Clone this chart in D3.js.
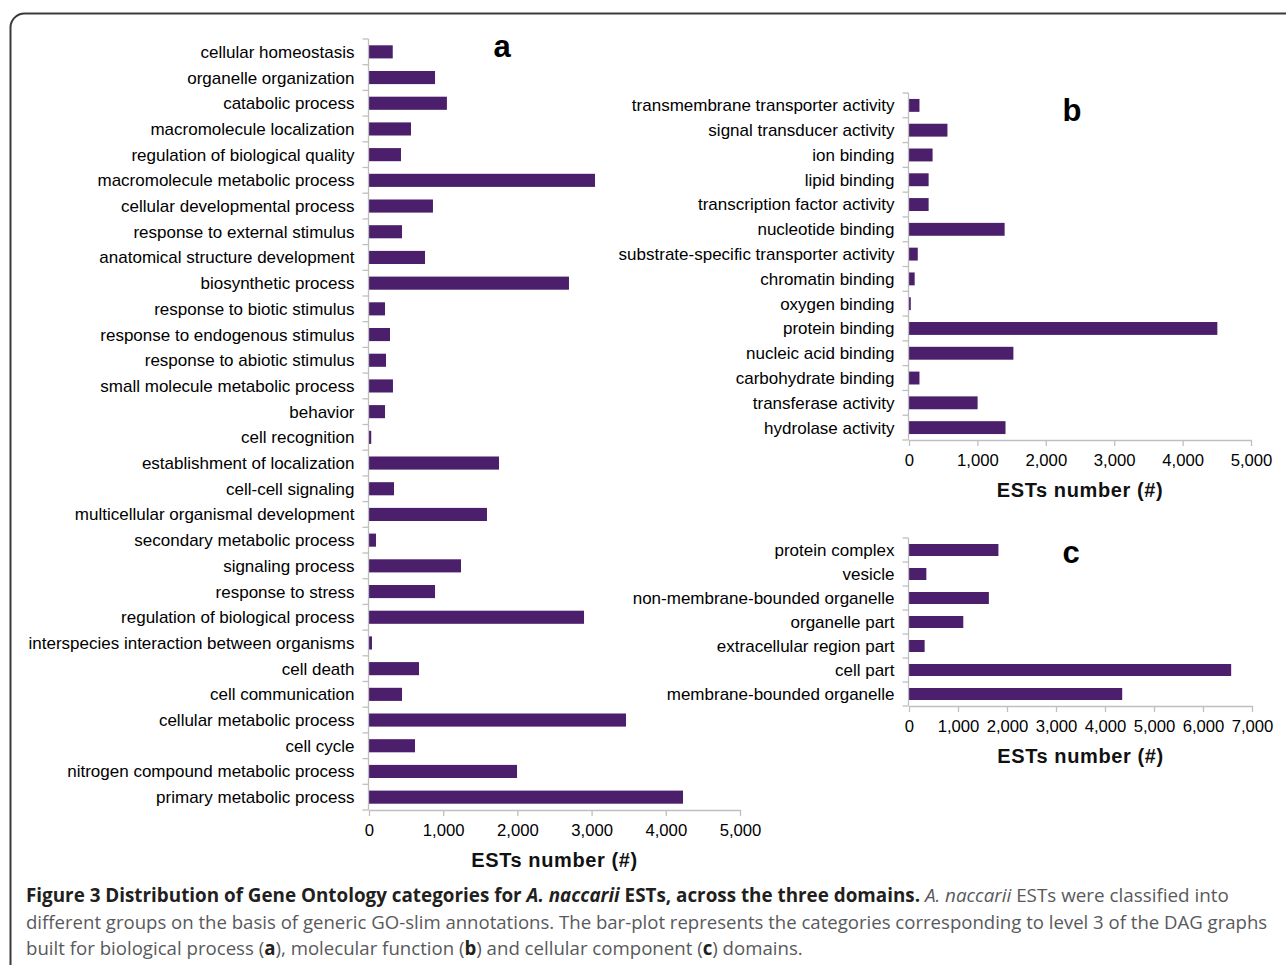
<!DOCTYPE html>
<html>
<head>
<meta charset="utf-8">
<script src="https://cdn.jsdelivr.net/npm/d3@7"></script>
<style>
  body { margin: 0; background: #fff; }
  svg { display: block; }
</style>
</head>
<body>
<div id="viz"></div>
<script>
// biological process (a)
const bpCategories = [
  "cellular homeostasis", "organelle organization", "catabolic process",
  "macromolecule localization", "regulation of biological quality",
  "macromolecule metabolic process", "cellular developmental process",
  "response to external stimulus", "anatomical structure development",
  "biosynthetic process", "response to biotic stimulus",
  "response to endogenous stimulus", "response to abiotic stimulus",
  "small molecule metabolic process", "behavior", "cell recognition",
  "establishment of localization", "cell-cell signaling",
  "multicellular organismal development", "secondary metabolic process",
  "signaling process", "response to stress", "regulation of biological process",
  "interspecies interaction between organisms", "cell death",
  "cell communication", "cellular metabolic process", "cell cycle",
  "nitrogen compound metabolic process", "primary metabolic process"
];
const bpValues = [
  320, 890, 1050, 566, 431, 3046, 862, 445, 755, 2695, 216, 283, 229, 323,
  216, 30, 1752, 337, 1590, 94, 1240, 890, 2898, 40, 674, 445, 3464, 620,
  1995, 4232
];
const bpTicks = [0, 1000, 2000, 3000, 4000, 5000];

// molecular function (b)
const mfCategories = [
  "transmembrane transporter activity", "signal transducer activity",
  "ion binding", "lipid binding", "transcription factor activity",
  "nucleotide binding", "substrate-specific transporter activity",
  "chromatin binding", "oxygen binding", "protein binding",
  "nucleic acid binding", "carbohydrate binding", "transferase activity",
  "hydrolase activity"
];
const mfValues = [153, 562, 345, 287, 287, 1398, 128, 83, 26, 4508, 1526, 153, 1003, 1411];
const mfTicks = [0, 1000, 2000, 3000, 4000, 5000];

// cellular component (c)
const ccCategories = [
  "protein complex", "vesicle", "non-membrane-bounded organelle",
  "organelle part", "extracellular region part", "cell part",
  "membrane-bounded organelle"
];
const ccValues = [1825, 354, 1630, 1108, 319, 6575, 4351];
const ccTicks = [0, 1000, 2000, 3000, 4000, 5000, 6000, 7000];

const W = 1286, H = 965;
const barColor = "#4b1f6b";
const axisColor = "#bfbfbf";
const labelFont = "Liberation Sans, Arial, sans-serif";

const svg = d3.select("#viz").append("svg")
  .attr("width", W).attr("height", H);

// frame
svg.append("rect")
  .attr("x", 10.5).attr("y", 13.5)
  .attr("width", 1320).attr("height", 1000)
  .attr("rx", 14)
  .attr("fill", "none")
  .attr("stroke", "#3a3a3a")
  .attr("stroke-width", 2);

function drawPanel(p) {
  const x = d3.scaleLinear().domain([0, p.max]).range([p.x0, p.x1]);
  const y = d3.scaleBand().domain(p.categories)
    .range([p.y0, p.y1])
    .paddingInner(p.pad).paddingOuter(p.pad / 2);

  const g = svg.append("g");

  // bars
  g.selectAll("rect.bar")
    .data(p.values)
    .join("rect")
    .attr("class", "bar")
    .attr("x", x(0))
    .attr("y", (d, i) => y(p.categories[i]))
    .attr("width", d => x(d) - x(0))
    .attr("height", y.bandwidth())
    .attr("fill", barColor);

  // category axis: line + ticks between categories
  const ax = Math.round(x(0)) - 0.5;
  g.append("line")
    .attr("x1", ax).attr("x2", ax)
    .attr("y1", p.y0).attr("y2", p.y1)
    .attr("stroke", axisColor).attr("stroke-width", 1.3);
  const bounds = d3.range(p.categories.length + 1).map(i => p.y0 + i * y.step());
  g.selectAll("line.ct")
    .data(bounds)
    .join("line")
    .attr("class", "ct")
    .attr("x1", ax - 6).attr("x2", ax)
    .attr("y1", d => d).attr("y2", d => d)
    .attr("stroke", axisColor).attr("stroke-width", 1.3);

  g.selectAll("text.cat")
    .data(p.categories)
    .join("text")
    .attr("class", "cat")
    .attr("x", ax - 14)
    .attr("y", d => y(d) + y.bandwidth() / 2)
    .attr("dy", "0.35em")
    .attr("text-anchor", "end")
    .attr("font-family", labelFont)
    .attr("font-size", "17px")
    .attr("fill", "#000")
    .text(d => d);

  // value axis
  const xa = g.append("g")
    .attr("transform", `translate(0,${p.y1})`)
    .call(d3.axisBottom(x).tickValues(p.ticks).tickSize(6).tickSizeOuter(0)
      .tickFormat(d3.format(",")));
  xa.select(".domain").attr("stroke", axisColor).attr("stroke-width", 1.3);
  xa.selectAll(".tick line").attr("stroke", axisColor).attr("stroke-width", 1.3);
  xa.selectAll(".tick text")
    .attr("y", 14)
    .attr("font-family", labelFont)
    .attr("font-size", "16.7px")
    .attr("fill", "#000");

  g.append("text")
    .attr("x", (p.x0 + p.x1) / 2)
    .attr("y", p.y1 + 57)
    .attr("text-anchor", "middle")
    .attr("font-family", labelFont)
    .attr("font-weight", "bold")
    .attr("font-size", "20px")
    .attr("letter-spacing", "0.6px")
    .attr("fill", "#111")
    .text("ESTs number (#)");

  g.append("text")
    .attr("x", p.lx).attr("y", p.ly)
    .attr("text-anchor", "middle")
    .attr("font-family", labelFont)
    .attr("font-weight", "bold")
    .attr("font-size", "31px")
    .attr("fill", "#000")
    .text(p.letter);
}

drawPanel({ categories: bpCategories, values: bpValues, ticks: bpTicks, max: 5000,
  x0: 369, x1: 740, y0: 39, y1: 810, pad: 0.49, letter: "a", lx: 502, ly: 57 });
drawPanel({ categories: mfCategories, values: mfValues, ticks: mfTicks, max: 5000,
  x0: 909, x1: 1251, y0: 93, y1: 440, pad: 0.48, letter: "b", lx: 1072, ly: 121 });
drawPanel({ categories: ccCategories, values: ccValues, ticks: ccTicks, max: 7000,
  x0: 909, x1: 1252, y0: 538, y1: 706, pad: 0.5, letter: "c", lx: 1071, ly: 563 });

// caption
const capFont = "'Open Sans', 'Noto Sans', sans-serif";
const capLines = [
  { y: 902, len: 1204, parts: [
    ["Figure 3 Distribution of Gene Ontology categories for ", "bold", "normal"],
    ["A. naccarii", "bold", "italic"],
    [" ESTs, across the three domains. ", "bold", "normal"],
    ["A. naccarii", "normal", "italic"],
    [" ESTs were classified into", "normal", "normal"]
  ]},
  { y: 929, len: 1242, parts: [
    ["different groups on the basis of generic GO-slim annotations. The bar-plot represents the categories corresponding to level 3 of the DAG graphs", "normal", "normal"]
  ]},
  { y: 955, len: 777, parts: [
    ["built for biological process (", "normal", "normal"],
    ["a", "bold", "normal"],
    ["), molecular function (", "normal", "normal"],
    ["b", "bold", "normal"],
    [") and cellular component (", "normal", "normal"],
    ["c", "bold", "normal"],
    [") domains.", "normal", "normal"]
  ]}
];
capLines.forEach(l => {
  const lg = svg.append("g");
  const t = lg.append("text")
    .attr("x", 0).attr("y", 0)
    .attr("font-family", capFont)
    .attr("font-size", "19px")
    .style("white-space", "pre");
  l.parts.forEach(([s, w, st]) => {
    t.append("tspan")
      .attr("font-weight", w)
      .attr("font-style", st)
      .attr("fill", w === "bold" ? "#231f20" : "#58595b")
      .text(s);
  });
  const natural = t.node().getComputedTextLength();
  lg.attr("transform", `translate(26,${l.y}) scale(${l.len / natural},1)`);
});
</script>
</body>
</html>
